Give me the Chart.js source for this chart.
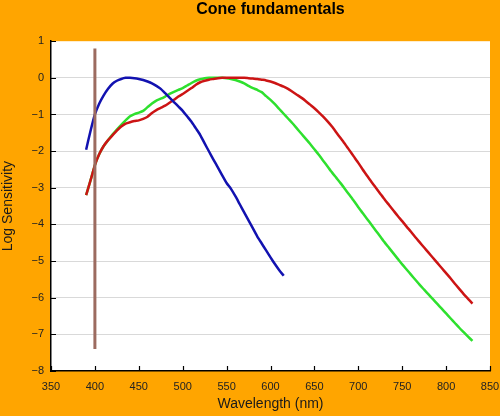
<!DOCTYPE html>
<html>
<head>
<meta charset="utf-8">
<script src="https://cdn.jsdelivr.net/npm/chart.js@4"></script>
<style>
  html, body { margin: 0; padding: 0; background: #FFA500; }
  #wrap { width: 500px; height: 416px; }
</style>
</head>
<body>
<div id="wrap"><canvas id="c" width="500" height="416"></canvas></div>
<script>
// Wavelengths (nm)
const sWavelengths = [390,395,400,405,410,415,420,425,430,435,440,445,450,455,460,465,470,475,480,485,490,495,500,505,510,515,520,525,530,535,540,545,550,555,560,565,570,575,580,585,590,595,600,605,610,615];
const lmWavelengths = [390,395,400,405,410,415,420,425,430,435,440,445,450,455,460,465,470,475,480,485,490,495,500,505,510,515,520,525,530,535,540,545,550,555,560,565,570,575,580,585,590,595,600,605,610,615,620,625,630,635,640,645,650,655,660,665,670,675,680,685,690,695,700,705,710,715,720,725,730,735,740,745,750,755,760,765,770,775,780,785,790,795,800,805,810,815,820,825,830];

// Log sensitivity values
const sCone = [-1.96,-1.45,-1.00,-0.70,-0.48,-0.30,-0.16,-0.08,-0.03,0.00,0.00,-0.01,-0.03,-0.06,-0.10,-0.15,-0.22,-0.30,-0.42,-0.54,-0.66,-0.78,-0.90,-1.05,-1.20,-1.38,-1.56,-1.79,-2.01,-2.23,-2.44,-2.66,-2.87,-3.03,-3.23,-3.45,-3.67,-3.89,-4.11,-4.33,-4.52,-4.71,-4.90,-5.08,-5.25,-5.40];
const mCone = [-3.20,-2.80,-2.38,-2.08,-1.86,-1.70,-1.55,-1.41,-1.28,-1.16,-1.05,-0.99,-0.95,-0.90,-0.80,-0.70,-0.62,-0.57,-0.51,-0.44,-0.38,-0.33,-0.28,-0.21,-0.14,-0.08,-0.04,-0.01,0.00,0.00,0.00,0.00,-0.01,-0.03,-0.06,-0.10,-0.15,-0.22,-0.28,-0.33,-0.39,-0.50,-0.60,-0.72,-0.85,-0.98,-1.11,-1.24,-1.38,-1.52,-1.66,-1.80,-1.95,-2.10,-2.26,-2.42,-2.58,-2.73,-2.88,-3.04,-3.20,-3.36,-3.53,-3.69,-3.85,-4.01,-4.17,-4.33,-4.49,-4.64,-4.79,-4.94,-5.09,-5.23,-5.37,-5.51,-5.65,-5.78,-5.91,-6.04,-6.17,-6.30,-6.43,-6.56,-6.69,-6.82,-6.94,-7.06,-7.18];
const lCone = [-3.20,-2.80,-2.38,-2.08,-1.86,-1.70,-1.57,-1.44,-1.33,-1.25,-1.21,-1.18,-1.16,-1.12,-1.06,-0.96,-0.88,-0.82,-0.76,-0.68,-0.60,-0.51,-0.44,-0.36,-0.28,-0.19,-0.12,-0.08,-0.05,-0.03,-0.01,0.00,0.00,0.00,0.00,0.00,0.00,-0.01,-0.02,-0.03,-0.05,-0.07,-0.10,-0.14,-0.19,-0.24,-0.30,-0.38,-0.46,-0.54,-0.63,-0.73,-0.83,-0.94,-1.06,-1.19,-1.33,-1.49,-1.65,-1.81,-1.98,-2.15,-2.32,-2.50,-2.67,-2.84,-3.00,-3.16,-3.32,-3.47,-3.62,-3.77,-3.91,-4.06,-4.20,-4.35,-4.49,-4.63,-4.77,-4.91,-5.05,-5.19,-5.33,-5.47,-5.62,-5.76,-5.90,-6.03,-6.16];

// Vertical marker at 400 nm
const markerX = [400, 400];
const markerY = [0.8, -7.4];

// Tick labels
const xTickValues = [350,400,450,500,550,600,650,700,750,800,850];
const yTickValues = [1,0,-1,-2,-3,-4,-5,-6,-7,-8];
const yTickLabels = ['1','0','\u22121','\u22122','\u22123','\u22124','\u22125','\u22126','\u22127','\u22128'];

const toPts = (xs, ys) => xs.map((x, i) => ({ x, y: ys[i] }));

const FONT = '"Liberation Sans", Arial, sans-serif';

const plotBg = {
  id: 'plotBg',
  beforeDraw(chart) {
    const { ctx, chartArea: a } = chart;
    ctx.save();
    ctx.fillStyle = '#FFA500';
    ctx.fillRect(0, 0, chart.width, chart.height);
    ctx.fillStyle = '#ffffff';
    ctx.fillRect(a.left, a.top, a.right - a.left, a.bottom - a.top);
    ctx.restore();
  }
};

const innerTicks = {
  id: 'innerTicks',
  afterDraw(chart) {
    const { ctx, chartArea: a, scales } = chart;
    ctx.save();
    ctx.strokeStyle = '#000';
    ctx.lineWidth = 1.2;
    ctx.beginPath();
    scales.x.ticks.forEach(t => {
      const px = Math.round(scales.x.getPixelForValue(t.value)) + 0.5;
      ctx.moveTo(px, a.bottom);
      ctx.lineTo(px, a.bottom - 5);
    });
    scales.y.ticks.forEach(t => {
      const py = Math.round(scales.y.getPixelForValue(t.value)) + 0.5;
      ctx.moveTo(a.left, py);
      ctx.lineTo(a.left + 5, py);
    });
    ctx.stroke();
    ctx.restore();
  }
};

new Chart(document.getElementById('c'), {
  type: 'line',
  data: {
    datasets: [
      { data: toPts(markerX, markerY), borderColor: '#9c6b60', borderWidth: 3, pointRadius: 0, borderCapStyle: 'butt' },
      { data: toPts(sWavelengths, sCone), borderColor: '#1212b0', borderWidth: 2.5, pointRadius: 0 },
      { data: toPts(lmWavelengths, lCone), borderColor: '#cc1414', borderWidth: 2.5, pointRadius: 0 },
      { data: toPts(lmWavelengths, mCone), borderColor: '#2ee02e', borderWidth: 2.5, pointRadius: 0 }
    ]
  },
  options: {
    responsive: false,
    animation: false,
    devicePixelRatio: 1,
    layout: { padding: { left: 0, right: 10, top: 0, bottom: 0 } },
    elements: { line: { tension: 0.2 } },
    plugins: {
      legend: { display: false },
      tooltip: { enabled: false },
      title: {
        display: true,
        text: 'Cone fundamentals',
        fullSize: false,
        color: '#000',
        font: { family: FONT, size: 16, weight: 'bold' },
        padding: { top: 0, bottom: 22 }
      }
    },
    scales: {
      x: {
        type: 'linear',
        min: 350, max: 850,
        afterBuildTicks: s => { s.ticks = xTickValues.map(v => ({ value: v })); },
        afterFit: s => { s.height = 45; s.paddingLeft = 0; s.paddingRight = 0; },
        grid: { display: false, drawTicks: false },
        border: { display: true, color: '#000', width: 1.5 },
        ticks: { color: '#222', font: { family: FONT, size: 11 }, padding: 9, maxRotation: 0, autoSkip: false },
        title: { display: true, text: 'Wavelength (nm)', color: '#1a1a1a', font: { family: FONT, size: 14 }, padding: { top: 3, bottom: 3 } }
      },
      y: {
        type: 'linear',
        min: -8, max: 1,
        afterBuildTicks: s => { s.ticks = yTickValues.map(v => ({ value: v })); },
        afterFit: s => { s.width = 51; s.paddingTop = 0; s.paddingBottom = 0; },
        grid: {
          drawTicks: false,
          color: c => (c.tick && (c.tick.value === 1 || c.tick.value === -8)) ? 'rgba(0,0,0,0)' : '#d9d9d9',
          lineWidth: 1
        },
        border: { display: true, color: '#000', width: 1.5 },
        ticks: {
          color: '#222', font: { family: FONT, size: 11 }, padding: 7, autoSkip: false,
          callback: v => { const i = yTickValues.indexOf(v); return i >= 0 ? yTickLabels[i] : ''; }
        },
        title: { display: true, text: 'Log Sensitivity', color: '#1a1a1a', font: { family: FONT, size: 14 }, padding: { top: 0, bottom: 14 } }
      }
    }
  },
  plugins: [plotBg, innerTicks]
});
</script>
</body>
</html>
